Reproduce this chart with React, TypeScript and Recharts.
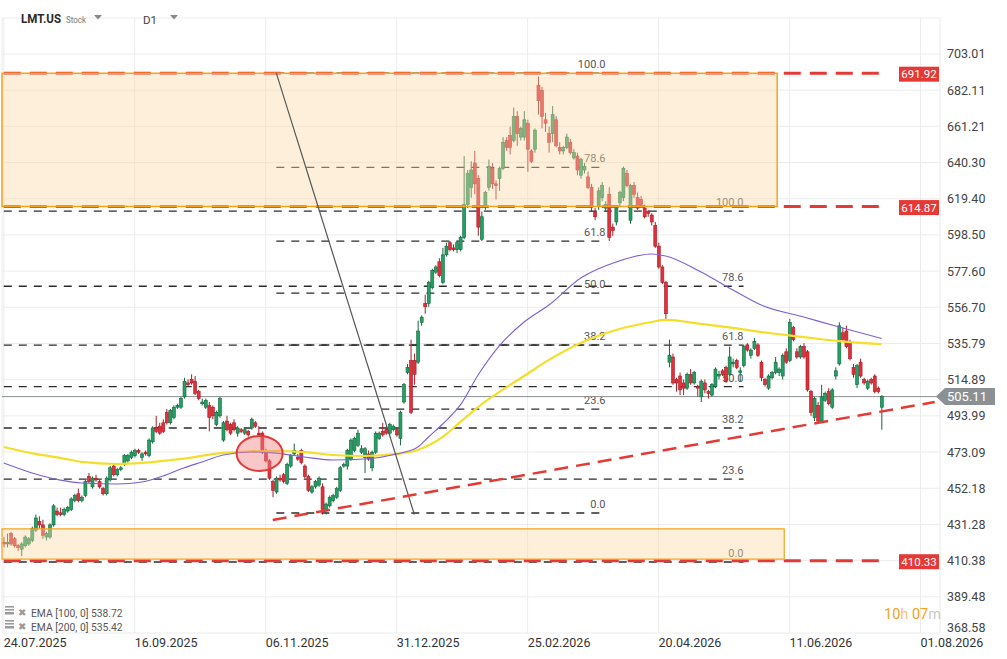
import React from 'react';
import {
  ComposedChart,
  Bar,
  Line,
  XAxis,
  YAxis,
  CartesianGrid,
  ReferenceLine,
  ReferenceArea,
  ReferenceDot,
} from 'recharts';

// ---- data ----
// daily candles [open, high, low, close]
const candles: [number, number, number, number][] = [
  [421, 424, 418, 420], [420, 426, 418, 421], [426, 427, 419, 420], [423, 424, 418, 419], [419, 420, 416, 418],
  [417, 421, 413, 420], [419, 425, 418, 424], [420, 424, 419, 423], [422, 430, 421, 429], [428, 437, 427, 435],
  [433, 436, 429, 431], [431, 434, 423, 425], [424, 427, 422, 426], [424, 432, 423, 431], [431, 443, 430, 442],
  [439, 441, 436, 437], [438, 441, 436, 437], [437, 441, 436, 440], [439, 442, 438, 441], [440, 447, 439, 446],
  [445, 449, 444, 448], [449, 452, 444, 445], [445, 448, 444, 447], [448, 457, 447, 456], [459, 461, 455, 456],
  [453, 459, 452, 458], [458, 460, 456, 457], [456, 457, 452, 453], [452, 453, 448, 449], [449, 459, 448, 458],
  [457, 465, 456, 464], [465, 466, 459, 460], [460, 464, 459, 463], [463, 465, 462, 464], [466, 472, 465, 471],
  [468, 472, 467, 471], [470, 474, 469, 473], [471, 475, 470, 474], [474, 475, 472, 473], [470, 473, 468, 472],
  [473, 474, 471, 472], [471, 481, 470, 480], [479, 488, 478, 487], [487, 494, 484, 485], [488, 490, 483, 484],
  [490, 492, 484, 485], [496, 498, 489, 490], [490, 498, 489, 497], [493, 500, 492, 499], [499, 501, 498, 500],
  [499, 505, 498, 504], [505, 516, 504, 514], [513, 515, 511, 512], [515, 518, 512, 513], [514, 517, 506, 507],
  [508, 509, 503, 504], [501, 504, 500, 502], [499, 504, 498, 503], [500, 502, 485, 493], [499, 500, 492, 494],
  [489, 497, 488, 496], [494, 505, 493, 504], [480, 491, 479, 490], [491, 494, 485, 486], [489, 490, 483, 484],
  [490, 492, 485, 486], [484, 488, 482, 487], [486, 487, 484, 485], [484, 487, 483, 486], [485, 486, 482, 483],
  [487, 493, 486, 492], [490, 491, 487, 488], [484, 488, 482, 483], [484, 485, 472, 473], [473, 475, 467, 468],
  [468, 469, 457, 458], [456, 457, 447, 451], [450, 459, 449, 458], [458, 460, 456, 457], [460, 461, 455, 456],
  [455, 467, 454, 466], [465, 472, 464, 471], [472, 478, 471, 474], [470, 472, 468, 469], [474, 475, 466, 467],
  [465, 466, 458, 459], [459, 460, 450, 451], [450, 454, 449, 453], [453, 457, 452, 456], [454, 459, 453, 458],
  [453, 455, 437, 440], [440, 444, 437, 443], [442, 448, 441, 447], [445, 449, 444, 448], [447, 453, 446, 452],
  [451, 465, 450, 464], [465, 467, 464, 466], [465, 475, 463, 474], [469, 481, 468, 480], [474, 482, 473, 481],
  [477, 486, 476, 484], [473, 477, 472, 475], [470, 476, 461, 475], [472, 474, 468, 469], [464, 474, 462, 473],
  [473, 485, 472, 484], [481, 485, 480, 484], [485, 490, 482, 483], [486, 488, 483, 484], [484, 490, 483, 489],
  [486, 489, 485, 488], [486, 487, 482, 483], [481, 497, 477, 496], [502, 513, 501, 512], [519, 524, 518, 522],
  [526, 538, 495, 496], [526, 530, 512, 518], [525, 549, 524, 543], [548, 552, 546, 551], [559, 564, 553, 557],
  [559, 572, 557, 571], [568, 579, 567, 578], [577, 581, 576, 580], [583, 585, 574, 575], [571, 591, 570, 587],
  [587, 594, 586, 592], [594, 595, 589, 590], [591, 593, 589, 590], [590, 595, 588, 594], [590, 598, 589, 597],
  [597, 644, 596, 616], [616, 636, 614, 634], [626, 641, 620, 636], [640, 647, 622, 628], [631, 633, 598, 603],
  [596, 612, 595, 609], [615, 624, 613, 623], [626, 642, 624, 638], [637, 640, 625, 628], [628, 630, 619, 627],
  [631, 638, 624, 637], [637, 655, 636, 652], [653, 655, 647, 649], [656, 661, 645, 649], [653, 672, 652, 667],
  [667, 670, 650, 657], [655, 661, 653, 660], [655, 670, 653, 665], [663, 665, 635, 648], [647, 648, 640, 641],
  [648, 660, 646, 659], [685, 690, 668, 676], [682, 684, 660, 667], [665, 669, 658, 663], [657, 661, 646, 652],
  [657, 673, 652, 668], [665, 667, 649, 650], [649, 652, 645, 647], [647, 650, 645, 649], [649, 657, 648, 655],
  [652, 654, 645, 646], [643, 648, 642, 646], [644, 646, 633, 636], [633, 643, 631, 642], [636, 640, 634, 638],
  [632, 635, 625, 626], [626, 628, 612, 615], [612, 614, 607, 609], [615, 626, 613, 624], [620, 629, 618, 627],
  [614, 618, 612, 616], [622, 626, 595, 597], [603, 605, 598, 601], [606, 615, 604, 614], [617, 624, 615, 623],
  [620, 638, 618, 637], [634, 636, 626, 627], [607, 628, 605, 627], [627, 629, 620, 622], [620, 623, 613, 614],
  [619, 621, 615, 616], [614, 616, 608, 609], [612, 613, 609, 611], [610, 611, 604, 606], [604, 606, 591, 592],
  [592, 594, 579, 580], [580, 581, 570, 571], [571, 572, 550, 553], [525, 538, 522, 529], [528, 530, 512, 513],
  [515, 516, 508, 513], [517, 519, 506, 509], [513, 515, 506, 510], [510, 519, 509, 518], [518, 521, 512, 513],
  [513, 520, 512, 519], [511, 512, 505, 510], [505, 515, 502, 514], [513, 515, 507, 509], [508, 509, 504, 507],
  [506, 513, 505, 512], [511, 522, 510, 521], [517, 520, 515, 518], [520, 521, 517, 518], [522, 523, 513, 514],
  [518, 534, 517, 528], [524, 527, 522, 525], [526, 527, 521, 522], [519, 522, 514, 520], [523, 535, 522, 534],
  [535, 536, 531, 532], [529, 533, 527, 532], [533, 539, 532, 537], [535, 536, 528, 529], [525, 526, 514, 516],
  [515, 516, 511, 512], [510, 518, 509, 517], [516, 520, 515, 519], [519, 528, 518, 525], [519, 522, 517, 521],
  [517, 530, 515, 529], [531, 533, 524, 525], [526, 550, 525, 548], [545, 546, 537, 538], [531, 533, 527, 528],
  [528, 535, 527, 534], [534, 536, 527, 528], [531, 532, 508, 509], [508, 509, 494, 496], [493, 505, 491, 504],
  [500, 502, 490, 491], [491, 512, 490, 505], [503, 508, 502, 507], [508, 510, 500, 501], [499, 510, 498, 509],
  [517, 522, 515, 520], [524, 548, 523, 546], [542, 545, 537, 538], [543, 546, 533, 534], [536, 538, 526, 527],
  [522, 524, 516, 518], [512, 524, 510, 523], [525, 527, 516, 517], [515, 516, 512, 513], [510, 515, 509, 514],
  [515, 516, 512, 513], [517, 518, 507, 508], [510, 511, 507, 508], [499, 506, 486, 505.11],
];

// EMA samples [candle index, value]
const ema100Points: [number, number][] = [
  [0, 466.8], [9, 460.4], [16, 456.9], [22, 455.2], [32, 454.6], [39, 455.8], [45, 459.3], [50, 463.3],
  [56, 467.4], [62, 471.4], [70, 473.1], [76, 472.6], [85, 470.2], [93, 468.5], [102, 469.1], [111, 472.0],
  [117, 476.0], [120, 481.8], [124, 489.3], [129, 500.3], [134, 517.6], [140, 534.4], [147, 548.2],
  [154, 558.0], [163, 573.6], [173, 582.9], [183, 587.5], [187, 586.3], [197, 577.1], [206, 566.7],
  [214, 558.0], [226, 551.1], [236, 545.3], [248, 538.72],
];
const ema200Points: [number, number][] = [
  [0, 476.0], [9, 472.0], [16, 469.7], [22, 467.4], [32, 466.2], [39, 466.8], [50, 469.1], [62, 472.6],
  [76, 473.7], [85, 473.1], [93, 471.4], [102, 470.8], [111, 472.0], [117, 474.3], [124, 481.8],
  [129, 490.5], [134, 499.1], [140, 507.8], [147, 517.0], [154, 526.3], [163, 536.1], [173, 543.6],
  [183, 548.2], [187, 549.4], [197, 547.1], [206, 544.8], [214, 542.4], [226, 539.5], [236, 537.2],
  [248, 535.42],
];

const totalSlots = 265;
const dateTickIndex = [0, 37, 74, 111, 148, 185, 222, 259];
const dateTickLabels = ['24.07.2025', '16.09.2025', '06.11.2025', '31.12.2025', '25.02.2026', '20.04.2026', '11.06.2026', '01.08.2026'];
const priceTicks = [703.01, 682.11, 661.21, 640.3, 619.4, 598.5, 577.6, 556.7, 535.79, 514.89, 493.99, 473.09, 452.18, 431.28, 410.38, 389.48, 368.58];

const levelLines = [691.92, 614.87, 410.33];
const lastPrice = 505.11;
const fibLevels = [0, 23.6, 38.2, 50, 61.8, 78.6, 100];
const fibLeft = { low: 437.9, high: 691.92, from: 77, to: 170 };
const fibRight = { low: 409.6, high: 612.2, from: 0, to: 209 };
const upperZone = { from: 0, to: 218, low: 614.87, high: 691.92 };
const lowerZone = { from: 0, to: 220, low: 411.3, high: 428.7 };
const trendStart = { x: 76, y: 433.9 };
const trendEnd = { x: 263, y: 502.0 };
const fibDiagStart = { x: 77, y: 691.92 };
const fibDiagEnd = { x: 116, y: 437.0 };
const circleMark = { x: 72, y: 472.3 };

const data: any[] = Array.from({ length: totalSlots }, (_, i) => {
  const row: any = { i };
  const c = candles[i];
  if (c) {
    row.o = c[0];
    row.h = c[1];
    row.l = c[2];
    row.c = c[3];
    row.range = [c[2], c[1]];
  }
  return row;
});
ema100Points.forEach(([i, v]) => (data[i].e100 = v));
ema200Points.forEach(([i, v]) => (data[i].e200 = v));

const FONT = 'Roboto, sans-serif';

const Candle = (props: any) => {
  const { x, y, width, height, payload } = props;
  if (!payload || payload.o == null || x == null || y == null) return null;
  const { o, h, l, c } = payload;
  const top = Math.min(y, y + height);
  const bot = Math.max(y, y + height);
  const span = h - l || 1;
  const ppu = (bot - top) / span;
  const yo = top + (h - o) * ppu;
  const yc = top + (h - c) * ppu;
  const up = c >= o;
  const cx = x + width / 2;
  const bw = 3;
  const bodyTop = Math.min(yo, yc);
  const bodyH = Math.max(Math.abs(yc - yo), 1);
  const edge = up ? '#17653f' : '#a51d27';
  const fill = up ? '#23a064' : '#e2303b';
  return (
    <g>
      <line x1={cx} x2={cx} y1={top} y2={bot} stroke={edge} strokeWidth={1} />
      <rect x={cx - bw / 2} y={bodyTop} width={bw} height={bodyH} fill={fill} stroke={edge} strokeWidth={0.6} />
    </g>
  );
};

const PriceTick = (props: any) => {
  const { x, y, payload } = props;
  const isLast = payload.value === 368.58;
  return (
    <text x={x} y={y + (isLast ? -1 : 4.5)} fill="#444" fontSize={12.5} fontFamily={FONT} textAnchor="start">
      {Number(payload.value).toFixed(2)}
    </text>
  );
};

const DateTick = (props: any) => {
  const { x, y, payload } = props;
  const idx = dateTickIndex.indexOf(payload.value);
  return (
    <text x={x} y={y + 14} fill="#333" fontSize={12.5} fontFamily={FONT} textAnchor="start">
      {idx >= 0 ? dateTickLabels[idx] : ''}
    </text>
  );
};

const fibLabel = (text: string) => (props: any) => {
  const vb = props.viewBox || {};
  return (
    <text x={(vb.x || 0) + (vb.width || 0)} y={(vb.y || 0) - 5} textAnchor="end" fill="#555" fontSize={11} fontFamily={FONT}>
      {text}
    </text>
  );
};

const priceTagLabel = (props: any) => {
  const vb = props.viewBox || {};
  const tip = (vb.x || 0) + (vb.width || 0) - 4;
  const y = vb.y || 0;
  const pts = `${tip},${y} ${tip + 9},${y - 8.5} ${tip + 59},${y - 8.5} ${tip + 59},${y + 8.5} ${tip + 9},${y + 8.5}`;
  return (
    <g>
      <polygon points={pts} fill="#8a9094" />
      <text x={tip + 11} y={y + 4.5} fill="#fff" fontSize={13} fontFamily={FONT}>
        {lastPrice.toFixed(2)}
      </text>
    </g>
  );
};

const RedTag = (value: number) => (props: any) => {
  const { cx, cy } = props;
  if (cx == null || cy == null) return null;
  return (
    <g>
      <rect x={cx - 18} y={cy - 6.5} width={40} height={15} fill="#e53935" />
      <text x={cx + 2} y={cy + 5} textAnchor="middle" fill="#fff" fontSize={11.5} fontFamily={FONT}>
        {value.toFixed(2)}
      </text>
    </g>
  );
};

const CircleShape = (props: any) => {
  const { cx, cy } = props;
  if (cx == null || cy == null) return null;
  return <ellipse cx={cx + 1} cy={cy} rx={23} ry={17.5} fill="rgba(242,130,130,0.45)" stroke="#e53935" strokeWidth={2} />;
};

const fibLines = (fib: { low: number; high: number; from: number; to: number }, key: string) =>
  fibLevels.map((lv) => {
    const v = fib.low + (fib.high - fib.low) * (lv / 100);
    return (
      <ReferenceLine
        key={`${key}-${lv}`}
        segment={[
          { x: fib.from, y: v },
          { x: fib.to, y: v },
        ]}
        stroke="#2b2b2b"
        strokeWidth={1.3}
        strokeDasharray="8 7"
        ifOverflow="visible"
        zIndex={100}
        label={fibLabel(lv.toFixed(1))}
      />
    );
  });

export default function App() {
  return (
    <div style={{ position: 'absolute', left: 0, top: 0, width: 1007, height: 659, background: '#fff', overflow: 'hidden' }}>
      <ComposedChart
        width={1007}
        height={659}
        data={data}
        margin={{ top: 18, right: 0, bottom: 0, left: 2 }}
        barCategoryGap={0}
        barGap={0}
      >
        <CartesianGrid stroke="#ececec" strokeWidth={1} />
        <XAxis
          dataKey="i"
          type="category"
          ticks={dateTickIndex}
          interval={0}
          height={26}
          tickLine={false}
          axisLine={false}
          tickSize={0}
          tickMargin={0}
          tick={<DateTick />}
        />
        <YAxis
          orientation="right"
          type="number"
          domain={[368.58, 723.79]}
          allowDataOverflow
          ticks={priceTicks}
          interval={0}
          width={67}
          tickLine={false}
          axisLine={false}
          tickSize={0}
          tickMargin={7}
          tick={<PriceTick />}
        />

        {fibLines(fibRight, 'r')}
        {fibLines(fibLeft, 'l')}

        {levelLines.map((v) => (
          <ReferenceLine
            key={`lvl-${v}`}
            segment={[
              { x: 0, y: v },
              { x: 249, y: v },
            ]}
            stroke="#e53935"
            strokeWidth={3}
            strokeDasharray="17 9"
            ifOverflow="visible"
            zIndex={150}
          />
        ))}

        <ReferenceLine y={lastPrice} stroke="#8a8f93" strokeWidth={1} zIndex={160} label={priceTagLabel} />

        <Bar dataKey="range" shape={<Candle />} isAnimationActive={false} zIndex={300} />

        <ReferenceArea
          x1={upperZone.from}
          x2={upperZone.to}
          y1={upperZone.low}
          y2={upperZone.high}
          fill="#fbd9a8"
          fillOpacity={0.42}
          stroke="#f5a31e"
          strokeWidth={1.5}
          ifOverflow="visible"
          zIndex={350}
        />
        <ReferenceArea
          x1={lowerZone.from}
          x2={lowerZone.to}
          y1={lowerZone.low}
          y2={lowerZone.high}
          fill="#fbd9a8"
          fillOpacity={0.42}
          stroke="#f5a31e"
          strokeWidth={1.2}
          ifOverflow="visible"
          zIndex={350}
        />

        <Line
          dataKey="e200"
          type="monotone"
          stroke="#f3df2a"
          strokeWidth={2.2}
          dot={false}
          connectNulls
          isAnimationActive={false}
          zIndex={400}
        />
        <Line
          dataKey="e100"
          type="monotone"
          stroke="#7c5fd5"
          strokeWidth={1.1}
          dot={false}
          connectNulls
          isAnimationActive={false}
          zIndex={410}
        />

        <ReferenceLine
          segment={[fibDiagStart, fibDiagEnd]}
          stroke="#555"
          strokeWidth={1.2}
          ifOverflow="visible"
          zIndex={450}
        />
        <ReferenceLine
          segment={[trendStart, trendEnd]}
          stroke="#e53935"
          strokeWidth={2.5}
          strokeDasharray="14 8"
          ifOverflow="visible"
          zIndex={450}
        />

        <ReferenceDot x={circleMark.x} y={circleMark.y} r={20} shape={CircleShape} ifOverflow="visible" zIndex={500} />

        {levelLines.map((v) => (
          <ReferenceDot key={`tag-${v}`} x={258} y={v} r={5} shape={RedTag(v)} ifOverflow="visible" zIndex={2000} />
        ))}
      </ComposedChart>

      <svg width={1007} height={659} style={{ position: 'absolute', left: 0, top: 0, pointerEvents: 'none' }}>
        <text x={21} y={23} fontSize={13.5} fontWeight="bold" fill="#2b2b2b" fontFamily={FONT} textLength={40} lengthAdjust="spacingAndGlyphs">
          LMT.US
        </text>
        <text x={66} y={23} fontSize={9} fill="#777" fontFamily={FONT} textLength={20} lengthAdjust="spacingAndGlyphs">
          Stock
        </text>
        <polygon points="94,15 102,15 98,19.5" fill="#888" />
        <text x={143} y={24} fontSize={11.5} fill="#444" fontFamily={FONT}>
          D1
        </text>
        <polygon points="170,15 178,15 174,19.5" fill="#888" />

        <g fill="#9a9a9a">
          <rect x={5} y={606} width={9} height={1.6} />
          <rect x={5} y={609} width={9} height={1.6} />
          <rect x={5} y={612} width={9} height={2.5} />
          <rect x={5} y={620} width={9} height={1.6} />
          <rect x={5} y={623} width={9} height={1.6} />
          <rect x={5} y={626} width={9} height={2.5} />
        </g>
        <text x={18} y={616} fontSize={10} fill="#999" fontFamily={FONT}>
          ✖
        </text>
        <text x={18} y={630} fontSize={10} fill="#999" fontFamily={FONT}>
          ✖
        </text>
        <text x={31} y={617} fontSize={10.3} fill="#555" fontFamily={FONT}>
          EMA [100, 0] 538.72
        </text>
        <text x={31} y={630.5} fontSize={10.3} fill="#555" fontFamily={FONT}>
          EMA [200, 0] 535.42
        </text>

        <text x={884} y={619} fontSize={14.5} fontFamily={FONT}>
          <tspan fill="#f5a01a">10</tspan>
          <tspan fill="#f6c27a">h </tspan>
          <tspan fill="#f5a01a">07</tspan>
          <tspan fill="#c9c9c9">m</tspan>
        </text>
      </svg>
    </div>
  );
}
